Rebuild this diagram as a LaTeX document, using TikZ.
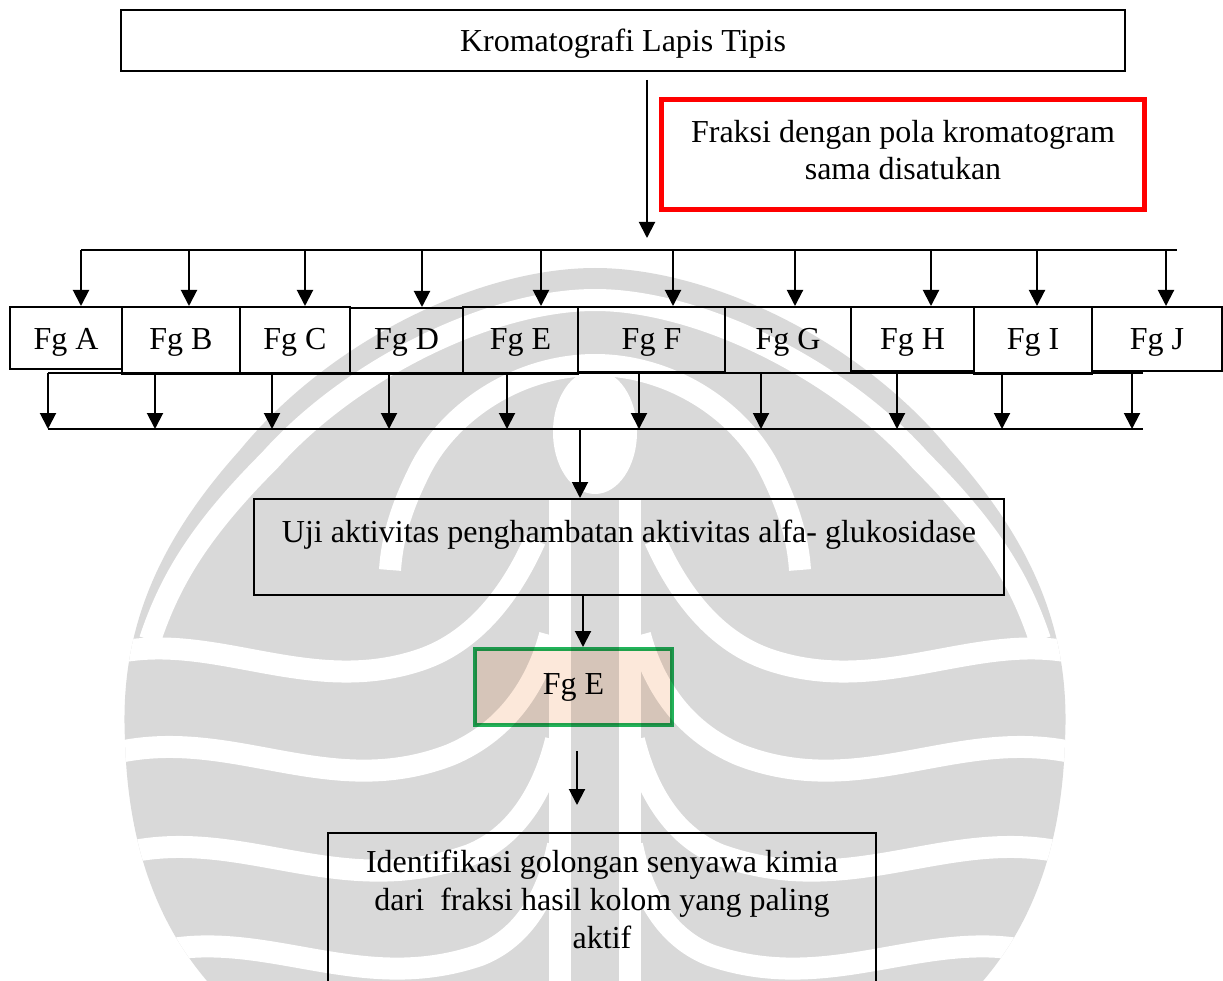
\documentclass[tikz,border=0pt]{standalone}
\usepackage{fontspec}
\setmainfont{Liberation Serif}
\usetikzlibrary{arrows.meta}
\definecolor{wmgray}{HTML}{D9D9D9}
\definecolor{boxred}{HTML}{FF0000}
\definecolor{boxgreen}{HTML}{22B35A}
\definecolor{peach}{HTML}{FCE8DA}

% one half of the background emblem; drawn twice, mirrored about x = 595
\def\wmhalf{%
  \draw[wmstripe] (595,300) .. controls (490,300) and (350,370) .. (270,460)
                            .. controls (200,530) and (170,580) .. (150,640);
  \draw[wmstripe] (595,365) .. controls (520,365) and (450,410) .. (420,470)
                            .. controls (400,510) and (392,540) .. (390,570);
  \draw[wmstripe] (90,660) .. controls (200,620) and (300,700) .. (420,660)
                           .. controls (480,640) and (515,585) .. (535,540);
  \draw[wmstripe] (90,760) .. controls (220,715) and (320,805) .. (450,755)
                           .. controls (510,730) and (538,680) .. (550,635);
  \draw[wmstripe] (100,860) .. controls (230,815) and (330,905) .. (470,855)
                            .. controls (520,835) and (545,785) .. (556,740);
  \draw[wmstripe] (130,960) .. controls (250,915) and (350,1000) .. (480,955)
                            .. controls (530,935) and (550,885) .. (558,845);
  \draw[wmstripe] (560,500) -- (560,1000);
}

\begin{document}
\begin{tikzpicture}[x=1pt, y=-1pt,
  font=\fontsize{32}{37}\selectfont,
  wmstripe/.style={draw=white, line width=22pt},
  line/.style={draw=black, line width=2pt},
  arr/.style={draw=black, line width=2pt, -{Triangle[length=16pt,width=16pt]}},
  frame/.style={draw=black, line width=2pt, rectangle, inner sep=0pt},
  % fraction box hung from its top edge; the baseline sits 42pt below the top
  fg/.style 2 args={frame, anchor=north, minimum width=#1,
                    text height=42pt, text depth={#2-42pt}},
  txt/.style={align=center, inner sep=0pt, anchor=north}]

\useasboundingbox (0,0) rectangle (1223,981);
\clip (0,0) rectangle (1223,981);

% background emblem
\begin{scope}
  \fill[wmgray] (595,268) .. controls (480,268) and (330,340) .. (240,450)
      .. controls (150,550) and (120,640) .. (125,740)
      .. controls (128,850) and (160,930) .. (215,990) -- (975,990)
      .. controls (1030,930) and (1062,850) .. (1065,740)
      .. controls (1070,640) and (1040,550) .. (950,450)
      .. controls (860,340) and (710,268) .. (595,268) -- cycle;
  \clip (595,268) .. controls (480,268) and (330,340) .. (240,450)
      .. controls (150,550) and (120,640) .. (125,740)
      .. controls (128,850) and (160,930) .. (215,990) -- (975,990)
      .. controls (1030,930) and (1062,850) .. (1065,740)
      .. controls (1070,640) and (1040,550) .. (950,450)
      .. controls (860,340) and (710,268) .. (595,268) -- cycle;
  \wmhalf
  \begin{scope}[xshift=1190, xscale=-1]\wmhalf\end{scope}
  \fill[white] (595,432) ellipse [x radius=42, y radius=62];
\end{scope}

% title and note
\node[frame, minimum width=1004, text height=42pt, text depth=19pt] (top) at (623,40.5)
  {Kromatografi Lapis Tipis};
\node[draw=boxred, line width=5pt, minimum width=483, minimum height=110, inner sep=0pt] (note) at (902.5,155) {};
\node[txt] (notetext) at (903,120) {Fraksi dengan pola kromatogram\\sama disatukan};

\coordinate (t0) at (647,80);
\coordinate (t1) at (647,238);
\draw[arr] (t0) -- (t1);

% fractions
\node[fg={112}{62}] (fgA) at (66,306)    {Fg A};
\node[fg={118}{67}] (fgB) at (181,306)   {Fg B};
\node[fg={110}{67}] (fgC) at (295,306)   {Fg C};
\node[fg={113}{66}] (fgD) at (406.5,307) {Fg D};
\node[fg={115}{67}] (fgE) at (520.5,306) {Fg E};
\node[fg={147}{65}] (fgF) at (651.5,306) {Fg F};
\node[fg={126}{66}] (fgG) at (788,306)   {Fg G};
\node[fg={123}{64}] (fgH) at (912.5,306) {Fg H};
\node[fg={118}{67}] (fgI) at (1033,306)  {Fg I};
\node[fg={130}{64}] (fgJ) at (1157,306)  {Fg J};

% distribution bar
\coordinate (dL) at (81,250);
\coordinate (dR) at (1177,250);
\draw[line] (dL) -- (dR);
\foreach \n/\x in {A/81,B/189,C/305,D/422,E/541,F/673,G/795,H/931,I/1037,J/1166}
  \draw[arr] (\x,0 |- dL) -- (\x,0 |- fg\n.north);

% collecting bars
\coordinate (cL) at (48,373);
\coordinate (cR) at (1143,373);
\coordinate (bL) at (48,429);
\coordinate (bR) at (1143,429);
\draw[line] (cL) -- (cR);
\draw[line] (bL) -- (bR);
\foreach \x in {48,155,272,389,507,639,761,897,1002,1132}
  \draw[arr] (\x,0 |- cL) -- (\x,0 |- bL);

% assay
\node[frame, minimum width=750, text height=43pt, text depth=53pt] (uji) at (629,547)
  {Uji aktivitas penghambatan aktivitas alfa- glukosidase};
\draw[arr] (580,0 |- bL) -- (580,0 |- uji.north);

% most active fraction
\node[draw=boxgreen, line width=4pt, fill=peach, blend mode=multiply,
      minimum width=197, minimum height=76, inner sep=0pt] (best) at (573.5,687) {Fg E};
\draw[arr] (583,0 |- uji.south) -- (583,0 |- best.north);

\coordinate (a0) at (577,751);
\coordinate (a1) at (577,805);
\draw[arr] (a0) -- (a1);

% identification
\node[frame, minimum width=548, minimum height=200, anchor=north] (ident) at (602,832) {};
\node[txt, font=\fontsize{32}{38}\selectfont] (identtext) at (602,850)
  {Identifikasi golongan senyawa kimia\\dari\ \ fraksi hasil kolom yang paling\\aktif};
\end{tikzpicture}
\end{document}
